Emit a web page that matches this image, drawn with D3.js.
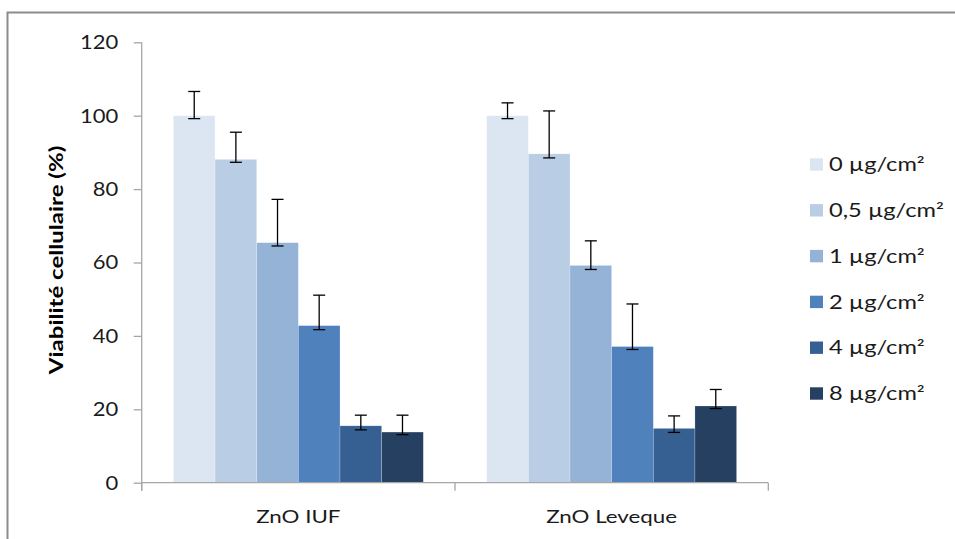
<!DOCTYPE html>
<html><head><meta charset="utf-8">
<script src="https://cdn.jsdelivr.net/npm/d3@7"></script>
<style>body{margin:0;background:#fff}svg{display:block}</style>
</head><body><div id="chart"></div>
<script>
const categories = ["ZnO IUF", "ZnO Leveque"];
const seriesNames = ["0 µg/cm²", "0,5 µg/cm²", "1 µg/cm²", "2 µg/cm²", "4 µg/cm²", "8 µg/cm²"];
const colors = ["#dce6f2", "#b9cde5", "#95b3d7", "#4f81bd", "#376092", "#254061"];
// values[series][category]
const values = [
  [100, 100],
  [88.1, 89.6],
  [65.4, 59.2],
  [42.8, 37.1],
  [15.5, 14.8],
  [13.8, 20.9]
];
const errPlus = [
  [6.6, 3.5],
  [7.4, 11.7],
  [11.8, 6.7],
  [8.3, 11.6],
  [2.9, 3.4],
  [4.6, 4.5]
];
const errMinus = [
  [0.8, 0.8],
  [0.8, 1.1],
  [0.9, 1.1],
  [1.1, 0.8],
  [1.1, 1.1],
  [0.7, 0.7]
];
const yTicks = [0, 20, 40, 60, 80, 100, 120];
const yTitle = "Viabilité cellulaire (%)";

const W = 955, H = 539;
const font = "Lato, 'Open Sans', sans-serif";
const svg = d3.select("#chart").append("svg").attr("width", W).attr("height", H);

// chart border
svg.append("rect").attr("x", 7.5).attr("y", 12.5).attr("width", 960).attr("height", 540)
  .attr("fill", "none").attr("stroke", "#8c8c8c").attr("stroke-width", 2);

const x0 = d3.scaleBand().domain(categories).range([141.7, 768.3]).paddingInner(0).paddingOuter(0);
const x1 = d3.scaleBand().domain(d3.range(seriesNames.length)).range([31.7, x0.bandwidth() - 31.7]);
const y = d3.scaleLinear().domain([0, 120]).range([482.7, 42.3]);

// y axis
const yAxis = d3.axisLeft(y).tickValues(yTicks).tickSize(8).tickPadding(15.4);
const gy = svg.append("g").attr("transform", "translate(141.7,0)").call(yAxis);
gy.select(".domain").attr("d", `M0,${y(120)}V490.7`).attr("stroke", "#a6a6a6").attr("stroke-width", 1.3);
gy.selectAll(".tick line").attr("stroke", "#a6a6a6").attr("stroke-width", 1.3);
gy.selectAll(".tick text").each(function() {
  const t = d3.select(this);
  const xx = +t.attr("x");
  t.attr("x", 0).attr("transform", `translate(${xx},0) scale(1.1,1)`);
}).attr("font-family", font).attr("font-size", 20).attr("fill", "#1a1a1a");

// bars
const groups = svg.append("g").selectAll("g").data(categories).join("g")
  .attr("transform", d => `translate(${x0(d)},0)`);
groups.each(function(cat, ci) {
  const g = d3.select(this);
  seriesNames.forEach((s, si) => {
    const v = values[si][ci];
    g.append("rect").attr("x", x1(si)).attr("width", x1.bandwidth())
      .attr("y", y(v)).attr("height", y(0) - y(v)).attr("fill", colors[si])
      .attr("stroke", "#ffffff").attr("stroke-opacity", 0.35).attr("stroke-width", 0.6);
  });
  seriesNames.forEach((s, si) => {
    const v = values[si][ci];
    const cx = x1(si) + x1.bandwidth() / 2;
    const top = y(v + errPlus[si][ci]), bot = y(v - errMinus[si][ci]);
    g.append("line").attr("x1", cx).attr("x2", cx).attr("y1", top).attr("y2", bot)
      .attr("stroke", "#000").attr("stroke-width", 1.3);
    [top, bot].forEach(yy => g.append("line").attr("x1", cx - 6).attr("x2", cx + 6)
      .attr("y1", yy).attr("y2", yy).attr("stroke", "#000").attr("stroke-width", 1.3));
  });
});

// x axis
const xAxis = d3.axisBottom(x0).tickSize(0).tickPadding(27.5);
const gx = svg.append("g").attr("transform", `translate(0,${y(0)})`).call(xAxis);
gx.select(".domain").attr("stroke", "#a6a6a6").attr("stroke-width", 1.3)
  .attr("d", `M141.7,0H768.3`);
gx.selectAll(".tick text").each(function() {
  const t = d3.select(this);
  const yy = +t.attr("y");
  t.attr("y", 0).attr("transform", `translate(0,${yy}) scale(1.27,1)`);
}).attr("font-family", font).attr("font-size", 17.6).attr("fill", "#1a1a1a");
// category separator ticks
const sepX = [x0.range()[0], ...categories.map(c => x0(c) + x0.bandwidth())];
gx.selectAll(".sep").data(sepX).join("line").attr("class", "sep")
  .attr("x1", d => d).attr("x2", d => d).attr("y1", 0).attr("y2", 8)
  .attr("stroke", "#a6a6a6").attr("stroke-width", 1.3);

// y title
svg.append("text").attr("transform", `translate(63,260) rotate(-90) scale(1.3,1)`)
  .attr("text-anchor", "middle").attr("font-family", font).attr("font-weight", "bold")
  .attr("font-size", 18.5).attr("fill", "#000").text(yTitle);

// legend
const leg = svg.append("g").selectAll("g").data(seriesNames).join("g")
  .attr("transform", (d, i) => `translate(810,${164.5 + i * 45.8})`);
leg.append("rect").attr("x", 0).attr("y", -6.2).attr("width", 13).attr("height", 12.4)
  .attr("fill", (d, i) => colors[i]);
leg.append("text").attr("transform", "translate(19,0) scale(1.28,1)").attr("y", 0).attr("dy", "0.36em")
  .attr("font-family", font).attr("font-size", 18.5).attr("fill", "#1a1a1a").text(d => d);
</script></body></html>
